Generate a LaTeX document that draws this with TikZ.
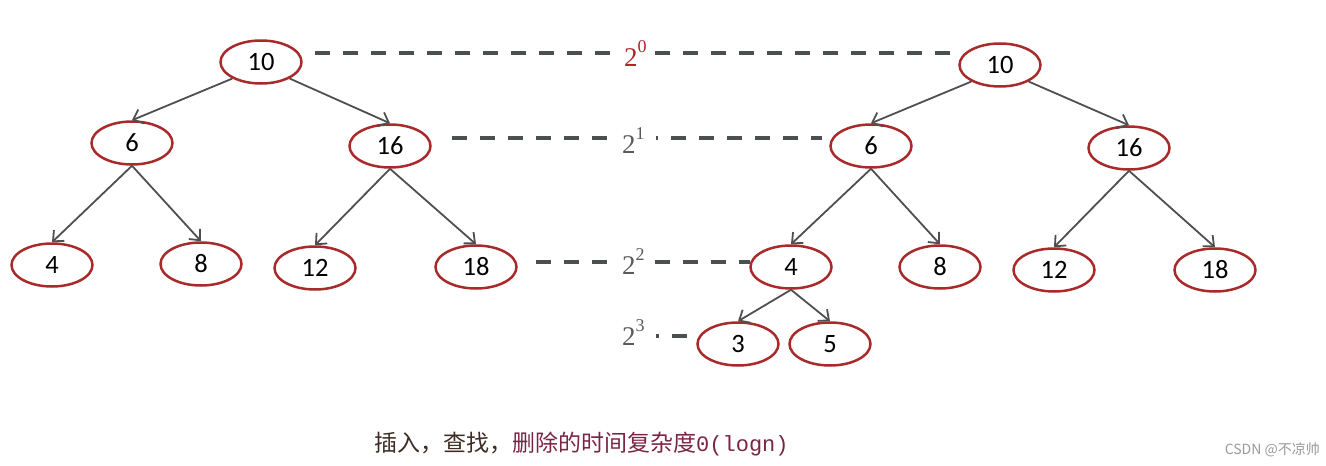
\documentclass[tikz,border=0pt]{standalone}
\usepackage{fontspec}
\setmainfont{Carlito}
\newfontfamily\serifdigits{Liberation Serif}
\newfontfamily\cjkfont{Noto Sans CJK SC}
\newfontfamily\monofont{Liberation Mono}
\usetikzlibrary{arrows.meta,shapes.geometric}
\definecolor{nodered}{HTML}{A82A2A}
\definecolor{arrowgray}{HTML}{4F4F4F}
\definecolor{dashgray}{HTML}{4A4F4F}
\definecolor{labgray}{HTML}{5A5A5A}
\definecolor{labred}{HTML}{B02428}
\definecolor{txtdark}{HTML}{3E2C24}
\definecolor{txtmaroon}{HTML}{7A2545}
\newcommand{\levsup}[1]{\raisebox{0.5em}{\fontsize{18}{20}\selectfont #1}}
\tikzset{
  treenode/.style={ellipse, draw=nodered, line width=2.5pt, minimum width=81pt, minimum height=43pt, inner sep=0pt, font=\fontsize{26.5}{30}\selectfont},
  edge/.style={draw=arrowgray, line width=1.8pt, -{Straight Barb[length=8.5pt,width=15pt]}},
  levelline/.style={draw=dashgray, line width=4pt, dash pattern=on 15pt off 13pt},
  levellab/.style={anchor=base west, inner sep=0pt, font=\serifdigits\fontsize{27}{30}\selectfont}
}
\begin{document}
\begin{tikzpicture}[x=1pt,y=-1pt]
\useasboundingbox (0,0) rectangle (1326,466);
% left tree
\node[treenode] (La) at (261,62) {10};
\node[treenode] (Lb) at (132,143) {6};
\node[treenode] (Lc) at (390,146) {16};
\node[treenode] (Ld) at (52,265) {4};
\node[treenode] (Le) at (201,264) {8};
\node[treenode] (Lf) at (315,268) {12};
\node[treenode] (Lg) at (476,267) {18};
\draw[edge] (La.210) -- (Lb.north);
\draw[edge] (La.330) -- (Lc.north);
\draw[edge] (Lb.south) -- (Ld.north);
\draw[edge] (Lb.south) -- (Le.north);
\draw[edge] (Lc.south) -- (Lf.north);
\draw[edge] (Lc.south) -- (Lg.north);
% right tree
\node[treenode] (Ra) at (1000,65) {10};
\node[treenode] (Rb) at (871,146) {6};
\node[treenode] (Rc) at (1129,148) {16};
\node[treenode] (Rd) at (791,267) {4};
\node[treenode] (Re) at (940,267) {8};
\node[treenode] (Rf) at (1054,270) {12};
\node[treenode] (Rg) at (1215,270) {18};
\node[treenode] (Rh) at (738,344) {3};
\node[treenode] (Ri) at (830,344) {5};
\draw[edge] (Ra.210) -- (Rb.north);
\draw[edge] (Ra.330) -- (Rc.north);
\draw[edge] (Rb.south) -- (Rd.north);
\draw[edge] (Rb.south) -- (Re.north);
\draw[edge] (Rc.south) -- (Rf.north);
\draw[edge] (Rc.south) -- (Rg.north);
\draw[edge] (Rd.south) -- (Rh.north);
\draw[edge] (Rd.south) -- (Ri.north);
% level labels
\node[levellab, text=labred] (l0) at (624,66) {2\levsup{0}};
\node[levellab, text=labgray] (l1) at (622,153) {2\levsup{1}};
\node[levellab, text=labgray] (l2) at (622,274) {2\levsup{2}};
\node[levellab, text=labgray] (l3) at (622,345) {2\levsup{3}};
% level dashed lines
\draw[levelline] (315,53) -- (612,53);
\draw[levelline] (655,53) -- (950,53);
\draw[levelline] (452,138) -- (608,138);
\draw[levelline, dash phase=13pt] (656,138) -- (822,138);
\draw[levelline] (536,262) -- (608,262);
\draw[levelline] (655,262) -- (750,262);
\draw[levelline, dash phase=12pt] (656,336) -- (690,336);
% caption
\node[anchor=west, inner sep=0pt] (cap) at (374,444) {\cjkfont\fontsize{23}{28}\selectfont\textcolor{txtdark}{插入，查找，}\textcolor{txtmaroon}{删除的时间复杂度{\monofont\fontsize{22}{28}\selectfont 0(logn)}}};
\node[anchor=east, inner sep=0pt, text=black!40] (wm) at (1320,450) {\cjkfont\fontsize{14}{16}\selectfont CSDN @不凉帅};
\end{tikzpicture}
\end{document}
